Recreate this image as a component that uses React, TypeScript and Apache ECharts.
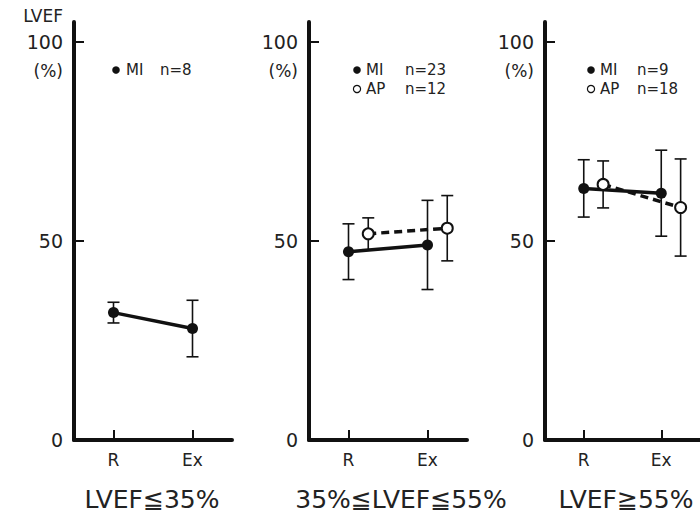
import React, { useEffect, useRef } from "react";
import * as echarts from "echarts";

// ---- Data ----
const categories = ["R", "Ex"];
const catX = [1, 2];
const apX = [1.25, 2.25];
const panelTitles = ["LVEF≦35%", "35%≦LVEF≦55%", "LVEF≧55%"];
const yTickLabels = [0, 50, 100];

const miMean = [
  [32, 28],
  [47.3, 49],
  [63.2, 62],
];
const miSD = [
  [2.6, 7.1],
  [7, 11.2],
  [7.2, 10.8],
];
const apMean: (number[] | null)[] = [null, [51.8, 53.2], [64.2, 58.4]];
const apSD: (number[] | null)[] = [null, [4, 8.2], [5.9, 12.2]];
const miN = [8, 23, 9];
const apN: (number | null)[] = [null, 12, 18];

// ---- Layout ----
const FONT = "'DejaVu Sans', 'Noto Sans CJK JP', sans-serif";
const gridLefts = [74, 309, 545];
const GRID_W = 158;
const GRID_TOP = 22;
const GRID_H = 418;
const legendDotX = [116, 357, 591];
const legendNameX = [126, 366, 600];
const legendNX = [160, 405, 637];
const titleCX = [152, 401, 626];

export default function App() {
  const ref = useRef<HTMLDivElement>(null);
  useEffect(() => {
    if (!ref.current) return;
    const chart = echarts.init(ref.current, null, { renderer: "svg" });

    const grids: any[] = [];
    const xAxes: any[] = [];
    const yAxes: any[] = [];
    const series: any[] = [];
    const graphics: any[] = [];

    const errRender = (params: any, api: any) => {
      const x = api.value(0);
      const lo = api.value(1);
      const hi = api.value(2);
      const t = api.coord([x, hi]);
      const b = api.coord([x, lo]);
      const hw = 6;
      const st = { stroke: "#111", lineWidth: 1.6 };
      return {
        type: "group",
        children: [
          { type: "line", shape: { x1: t[0], y1: t[1], x2: b[0], y2: b[1] }, style: st },
          { type: "line", shape: { x1: t[0] - hw, y1: t[1], x2: t[0] + hw, y2: t[1] }, style: st },
          { type: "line", shape: { x1: b[0] - hw, y1: b[1], x2: b[0] + hw, y2: b[1] }, style: st },
        ],
      };
    };

    for (let p = 0; p < 3; p++) {
      grids.push({ left: gridLefts[p], top: GRID_TOP, width: GRID_W, height: GRID_H });
      xAxes.push({
        gridIndex: p,
        type: "value",
        min: 0.5,
        max: 2.5,
        axisLine: { show: true, lineStyle: { color: "#111", width: 4 } },
        axisTick: { show: true, inside: true, length: 10, lineStyle: { color: "#111", width: 2 }, customValues: catX },
        axisLabel: {
          show: true,
          customValues: catX,
          margin: 11,
          fontSize: 17,
          fontFamily: FONT,
          color: "#222",
          formatter: (v: number) => categories[catX.indexOf(v)] ?? "",
        },
        splitLine: { show: false },
      });
      yAxes.push({
        gridIndex: p,
        type: "value",
        min: 0,
        max: 105,
        axisLine: { show: true, lineStyle: { color: "#111", width: 4 } },
        axisTick: { show: true, inside: true, length: 10, lineStyle: { color: "#111", width: 2 }, customValues: [50, 100] },
        axisLabel: {
          show: true,
          customValues: yTickLabels,
          margin: 11,
          fontSize: 19,
          fontFamily: FONT,
          color: "#222",
          formatter: (v: number) => String(v),
        },
        splitLine: { show: false },
      });

      // error bars MI
      series.push({
        type: "custom",
        xAxisIndex: p,
        yAxisIndex: p,
        z: 1,
        renderItem: errRender,
        encode: { x: 0, y: [1, 2] },
        data: catX.map((x, i) => [x, miMean[p][i] - miSD[p][i], miMean[p][i] + miSD[p][i]]),
      });
      const am = apMean[p];
      const asd = apSD[p];
      if (am && asd) {
        series.push({
          type: "custom",
          xAxisIndex: p,
          yAxisIndex: p,
          z: 1,
          renderItem: errRender,
          encode: { x: 0, y: [1, 2] },
          data: apX.map((x, i) => [x, am[i] - asd[i], am[i] + asd[i]]),
        });
      }
      series.push({
        type: "line",
        name: "MI",
        xAxisIndex: p,
        yAxisIndex: p,
        z: 3,
        symbol: "circle",
        symbolSize: 11,
        lineStyle: { color: "#111", width: 3.5 },
        itemStyle: { color: "#111" },
        data: catX.map((x, i) => [x, miMean[p][i]]),
      });
      if (am) {
        series.push({
          type: "line",
          name: "AP",
          xAxisIndex: p,
          yAxisIndex: p,
          z: 4,
          symbol: "circle",
          symbolSize: 11,
          lineStyle: { color: "#111", width: 3.5, type: [8, 5] },
          itemStyle: { color: "#fff", borderColor: "#111", borderWidth: 2 },
          data: apX.map((x, i) => [x, am[i]]),
        });
      }

      // legend
      graphics.push({ type: "circle", shape: { cx: legendDotX[p], cy: 70, r: 3.8 }, style: { fill: "#111" } });
      graphics.push({
        type: "text",
        x: legendNameX[p],
        y: 70,
        style: { text: "MI", font: `15px ${FONT}`, fill: "#222", verticalAlign: "middle" },
      });
      graphics.push({
        type: "text",
        x: legendNX[p],
        y: 70,
        style: { text: `n=${miN[p]}`, font: `15px ${FONT}`, fill: "#222", verticalAlign: "middle" },
      });
      if (apN[p] != null) {
        graphics.push({
          type: "circle",
          shape: { cx: legendDotX[p], cy: 89, r: 3.6 },
          style: { fill: "#fff", stroke: "#111", lineWidth: 1.2 },
        });
        graphics.push({
          type: "text",
          x: legendNameX[p],
          y: 89,
          style: { text: "AP", font: `15px ${FONT}`, fill: "#222", verticalAlign: "middle" },
        });
        graphics.push({
          type: "text",
          x: legendNX[p],
          y: 89,
          style: { text: `n=${apN[p]}`, font: `15px ${FONT}`, fill: "#222", verticalAlign: "middle" },
        });
      }
      // (%)
      graphics.push({
        type: "text",
        x: gridLefts[p] - 11,
        y: 71,
        style: { text: "(%)", font: `17px ${FONT}`, fill: "#222", align: "right", verticalAlign: "middle" },
      });
      // title
      graphics.push({
        type: "text",
        x: titleCX[p],
        y: 499,
        style: { text: panelTitles[p], font: `25px ${FONT}`, fill: "#222", align: "center", verticalAlign: "middle" },
      });
    }
    graphics.push({
      type: "text",
      x: 63,
      y: 16,
      style: { text: "LVEF", font: `17px ${FONT}`, fill: "#222", align: "right", verticalAlign: "middle" },
    });

    chart.setOption({
      animation: false,
      backgroundColor: "#fff",
      grid: grids,
      xAxis: xAxes,
      yAxis: yAxes,
      series,
      graphic: graphics,
    });
    return () => chart.dispose();
  }, []);
  return (
    <div
      ref={ref}
      style={{ position: "fixed", left: 0, top: 0, width: 700, height: 514 }}
    />
  );
}
